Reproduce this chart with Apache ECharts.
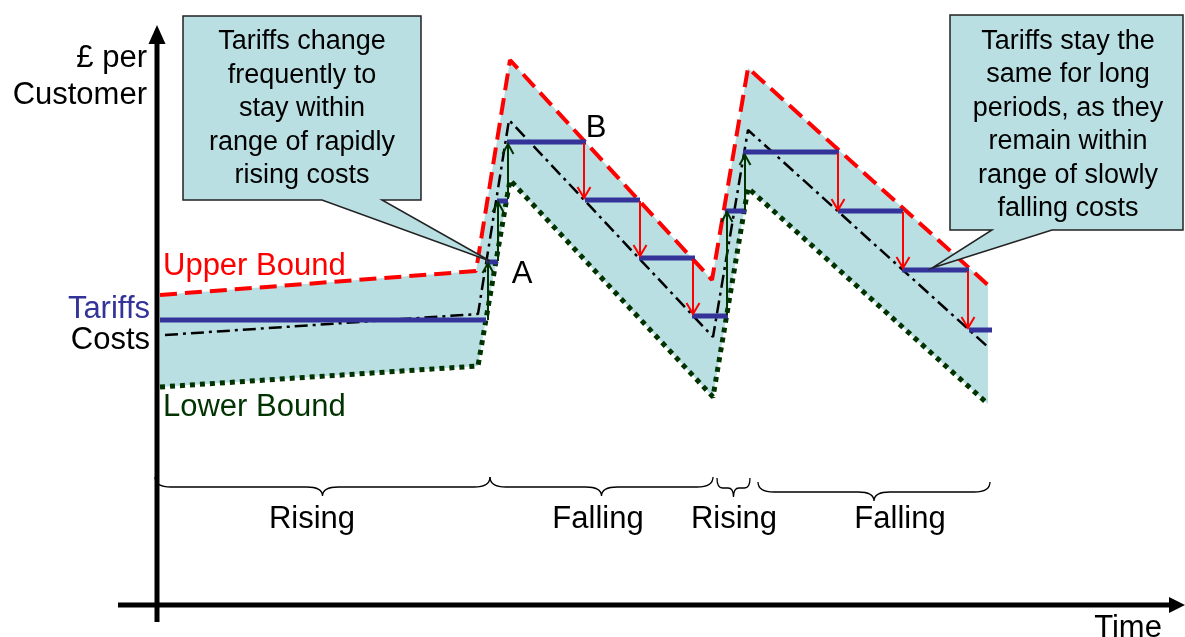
<!DOCTYPE html>
<html><head><meta charset="utf-8">
<script src="https://cdn.jsdelivr.net/npm/echarts@6/dist/echarts.min.js"></script>
<style>html,body{margin:0;padding:0;background:#fff}#c{width:1185px;height:637px}</style>
</head><body><div id="c"></div>
<script>
// ---- data (x = time units, y = £ per customer units) ----
const upperBound = [[160,342],[476,366],[510,577],[712,357],[748,569],[988,352]];
const lowerBound = [[160,250],[478,271],[510,457],[713,240],[748,449],[988,233]];
const costs      = [[165,302],[478,323],[509,517],[713,300],[748,507],[988,290]];
// tariff steps: [start, end, level]
const tariffSteps = [[160,486,317],[486,498,375],[497,508,436],[507,586,495],[585,640,437],[639,695,379],
                     [692,728,321],[725,746,426],[743,839,485],[838,903,426],[902,969,367],[969,992,307]];
// tariff cuts (red, down): [time, from, to]
const tariffCuts = [[584,494,439],[640,436,381],[693,378,323],[838,484,427],[903,425,369],[968,366,309]];
// tariff rises (green, up): [time, from, to]
const tariffRises = [[488,317,374],[498,376,435],[508,438,493],[727,322,425],[745,427,482]];
// phases: [label, start, end, brace level]
const phases = [['Rising',155,490,160],['Falling',490,713,160],['Rising',717,750,159],['Falling',758,990,155]];
const boxTexts = ['Tariffs change\nfrequently to\nstay within\nrange of rapidly\nrising costs',
                  'Tariffs stay the\nsame for long\nperiods, as they\nremain within\nrange of slowly\nfalling costs'];

const FONT = '"Liberation Sans", Arial, Helvetica, sans-serif';
const BAND = '#B9DFE3';
const BLUE = '#333399', RED = '#FF0000', GREEN = '#003300';

const chart = echarts.init(document.getElementById('c'), null, {renderer: 'canvas'});

function bandItem(params, api) {
  const pts = upperBound.map(p => api.coord(p)).concat(lowerBound.slice().reverse().map(p => api.coord(p)));
  return {type: 'polygon', shape: {points: pts}, style: {fill: BAND}};
}
function stepItem(params, api) {
  const d = tariffSteps[params.dataIndex];
  const a = api.coord([d[0], d[2]]), b = api.coord([d[1], d[2]]);
  return {type: 'line', shape: {x1: a[0], y1: a[1], x2: b[0], y2: b[1]}, style: {stroke: BLUE, lineWidth: 5}};
}
function arrowMaker(list, color, hw, hl) {
  return function (params, api) {
    const d = list[params.dataIndex];
    const a = api.coord([d[0], d[1]]), b = api.coord([d[0], d[2]]);
    const dir = Math.sign(a[1] - b[1]);
    return {type: 'group', children: [
      {type: 'line', shape: {x1: a[0], y1: a[1], x2: b[0], y2: b[1]}, style: {stroke: color, lineWidth: 2}},
      {type: 'polyline', shape: {points: [[b[0] - hw, b[1] + dir * hl], [b[0], b[1]], [b[0] + hw, b[1] + dir * hl]]},
       style: {stroke: color, lineWidth: 2, fill: null}}
    ]};
  };
}
function braceItem(params, api) {
  const d = phases[params.dataIndex];
  const p1 = api.coord([d[1], d[3]]), p2 = api.coord([d[2], d[3]]);
  const x1 = p1[0], x2 = p2[0], y0 = p1[1], xm = (x1 + x2) / 2;
  const r = Math.min(16, (x2 - x1) / 6);
  const h1 = 10, h2 = 19;
  const path = `M${x1} ${y0} Q${x1} ${y0 + h1} ${x1 + r} ${y0 + h1} L${xm - r} ${y0 + h1} Q${xm} ${y0 + h1} ${xm} ${y0 + h2} ` +
               `Q${xm} ${y0 + h1} ${xm + r} ${y0 + h1} L${x2 - r} ${y0 + h1} Q${x2} ${y0 + h1} ${x2} ${y0}`;
  return {type: 'path', shape: {pathData: path}, style: {stroke: '#000', lineWidth: 1.3, fill: null}};
}

function txt(text, x, y, color, size, align, lineHeight) {
  const style = {text: text, x: x, y: y, fill: color, font: `${size}px ${FONT}`,
                 align: align || 'center', verticalAlign: 'middle', textAlign: align || 'center', textVerticalAlign: 'middle'};
  if (lineHeight) style.lineHeight = lineHeight;
  return {type: 'text', z: 120, style: style};
}

const option = {
  animation: false,
  grid: {left: 0, right: 0, top: 0, bottom: 0},
  xAxis: {type: 'value', min: 0, max: 1185, show: false},
  yAxis: {type: 'value', min: 0, max: 637, show: false},
  series: [
    {type: 'custom', renderItem: bandItem, data: [0], z: 1, silent: true},
    {type: 'line', data: lowerBound, symbol: 'none', z: 3, silent: true,
     lineStyle: {color: GREEN, width: 5, type: [5, 5], cap: 'butt'}},
    {type: 'line', data: upperBound, symbol: 'none', z: 3, silent: true,
     lineStyle: {color: RED, width: 4, type: [17, 8], cap: 'butt'}},
    {type: 'line', data: costs, symbol: 'none', z: 4, silent: true,
     lineStyle: {color: '#000', width: 2.5, type: [13, 5, 3, 5]}},
    {type: 'custom', renderItem: stepItem, data: tariffSteps.map((d, i) => i), z: 5, silent: true},
    {type: 'custom', renderItem: arrowMaker(tariffCuts, RED, 6.5, 11), data: tariffCuts.map((d, i) => i), z: 6, silent: true},
    {type: 'custom', renderItem: arrowMaker(tariffRises, GREEN, 5.5, 10), data: tariffRises.map((d, i) => i), z: 6, silent: true},
    {type: 'custom', renderItem: braceItem, data: phases.map((d, i) => i), z: 6, silent: true}
  ],
  graphic: [
    // axes
    {type: 'line', z: 110, shape: {x1: 157, y1: 622, x2: 157, y2: 40}, style: {stroke: '#000', lineWidth: 5}},
    {type: 'polygon', z: 110, shape: {points: [[157, 25], [148.5, 44], [165.5, 44]]}, style: {fill: '#000'}},
    {type: 'line', z: 110, shape: {x1: 118, y1: 605, x2: 1172, y2: 605}, style: {stroke: '#000', lineWidth: 5}},
    {type: 'polygon', z: 110, shape: {points: [[1185, 605], [1169, 597], [1169, 613]]}, style: {fill: '#000'}},
    // callouts
    {type: 'polygon', z: 115, shape: {points: [[183, 16], [421, 16], [421, 200], [382, 200], [490, 261], [322, 200], [183, 200]]},
     style: {fill: BAND, stroke: '#222', lineWidth: 1.5}},
    {type: 'polygon', z: 115, shape: {points: [[950, 15], [1183, 15], [1183, 230], [1052, 230], [932, 268], [992, 230], [950, 230]]},
     style: {fill: BAND, stroke: '#222', lineWidth: 1.5}},
    txt(boxTexts[0], 302, 109, '#000', 27, 'center', 33.5),
    txt(boxTexts[1], 1068, 125, '#000', 27, 'center', 33.5),
    // labels
    txt('£ per', 147, 58, '#000', 31, 'right'),
    txt('Customer', 147, 95, '#000', 31, 'right'),
    txt('Upper Bound', 163, 266, RED, 31, 'left'),
    txt('Lower Bound', 163, 407, GREEN, 31, 'left'),
    txt('Tariffs', 150, 309, BLUE, 31, 'right'),
    txt('Costs', 150, 340, '#000', 31, 'right'),
    txt('A', 522, 274, '#000', 31),
    txt('B', 596, 128, '#000', 31),
    txt('Rising', 312, 519, '#000', 31),
    txt('Falling', 598, 519, '#000', 31),
    txt('Rising', 734, 519, '#000', 31),
    txt('Falling', 900, 519, '#000', 31),
    {type: 'text', z: 120, style: {text: 'Time', x: 1128, y: 628, fill: '#000', font: '31px "Liberation Sans Narrow", "Liberation Sans", Arial, sans-serif',
      align: 'center', verticalAlign: 'middle', textAlign: 'center', textVerticalAlign: 'middle'}}
  ]
};
chart.setOption(option);
</script></body></html>
